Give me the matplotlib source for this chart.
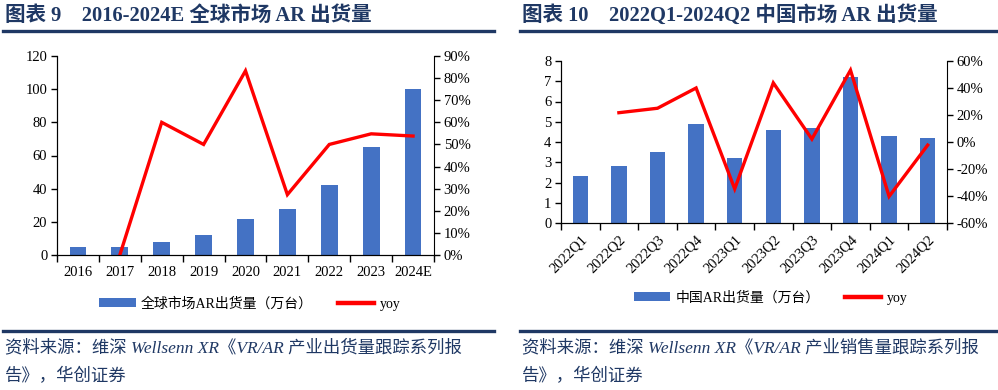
import matplotlib
matplotlib.use("Agg")
import matplotlib.pyplot as plt
from matplotlib.lines import Line2D
from matplotlib.patches import Patch
from matplotlib.ticker import FuncFormatter, FixedLocator
import numpy as np

# 图表9 数据
years = ["2016", "2017", "2018", "2019", "2020", "2021", "2022", "2023", "2024E"]
global_ship = [5, 5, 8, 12, 22, 28, 42, 65, 100]          # 万台
global_yoy = [0.0, 60.0, 50.0, 83.3, 27.3, 50.0, 54.8, 53.8]  # %, 从2017开始

# 图表10 数据
quarters = ["2022Q1", "2022Q2", "2022Q3", "2022Q4", "2023Q1", "2023Q2",
            "2023Q3", "2023Q4", "2024Q1", "2024Q2"]
china_ship = [2.3, 2.8, 3.5, 4.9, 3.2, 4.6, 4.7, 7.2, 4.3, 4.2]
china_yoy = [21.7, 25.0, 40.0, -34.7, 43.8, 2.2, 53.2, -40.3, -2.3]  # %, 从2022Q2开始

BAR = "#4472C4"
RED = "#FF0000"
NAVY = "#1F3864"
FAM = ["Liberation Serif", "Noto Sans CJK SC", "DejaVu Sans"]

plt.rcParams["font.family"] = FAM
plt.rcParams["axes.unicode_minus"] = False

fig = plt.figure(figsize=(9.98, 3.90), dpi=100)


def px(x, y):
    return x / 998, 1 - y / 390


def panel(rect, cats, bars, yoy, ylim, ystep, rlim, rstep, rotate):
    ax = fig.add_axes(rect)
    n = len(cats)
    x = np.arange(n)
    ax.bar(x, bars, width=0.4, color=BAR, zorder=2)
    ax.set_xlim(-0.5, n - 0.5)
    ax.set_ylim(*ylim)
    ax.set_yticks(np.arange(ylim[0], ylim[1] + ystep / 2, ystep))
    ax.set_xticks(x)
    if rotate:
        ax.set_xticklabels(cats, rotation=45, ha="right", rotation_mode="anchor")
    else:
        ax.set_xticklabels(cats)
    ax.xaxis.set_minor_locator(FixedLocator(np.arange(n + 1) - 0.5))
    ax.tick_params(axis="x", which="major", length=0, labelsize=10.5, pad=8 if not rotate else 7)
    ax.tick_params(axis="x", which="minor", length=5, width=1)
    ax.tick_params(axis="y", length=4, width=1, labelsize=10.5, pad=3)
    ax.spines["top"].set_visible(False)
    ax.spines["right"].set_visible(False)

    ax2 = ax.twinx()
    ax2.plot(x[1:], yoy, color=RED, lw=2.4, solid_joinstyle="miter")
    ax2.set_ylim(*rlim)
    ax2.set_yticks(np.arange(rlim[0], rlim[1] + rstep / 2, rstep))
    ax2.yaxis.set_major_formatter(FuncFormatter(lambda v, p: "%d%%" % round(v)))
    ax2.tick_params(axis="y", length=4, width=1, labelsize=10.5, pad=3)
    ax2.spines["top"].set_visible(False)
    return ax, ax2


# 左图
l, b = px(57, 255)
r, t = px(434, 56)
panel([l, b, r - l, t - b], years, global_ship, global_yoy, (0, 120), 20, (0, 90), 10, False)

# 右图
l, b = px(561, 223)
r, t = px(947, 61)
panel([l, b, r - l, t - b], quarters, china_ship, china_yoy, (0, 8), 1, (-60, 60), 20, True)

# 标题和分隔线
titles = [("图表 9    2016-2024E 全球市场 AR 出货量", 5, 3, 494),
          ("图表 10    2022Q1-2024Q2 中国市场 AR 出货量", 522, 520, 998)]
for txt, tx, x0, x1 in titles:
    fig.text(*px(tx, 16), txt, color=NAVY, fontsize=14.8, fontweight="bold",
             va="center", ha="left")
    fig.add_artist(Line2D([x0 / 998, x1 / 998], [1 - 31 / 390] * 2, color=NAVY, lw=2.4))
    fig.add_artist(Line2D([x0 / 998, x1 / 998], [1 - 331 / 390] * 2, color=NAVY, lw=2.4))

# 图例
legends = [("全球市场AR出货量（万台）", 250, 304), ("中国AR出货量（万台）", 771, 298)]
for label, cx, cy in legends:
    h = [Patch(facecolor=BAR, edgecolor="none", label=label),
         Line2D([], [], color=RED, lw=3.2, label="yoy")]
    fig.legend(handles=h, loc="center", bbox_to_anchor=px(cx, cy), ncol=2,
               frameon=False, prop={"family": FAM, "size": 10},
               handlelength=2.6, handleheight=0.6, handletextpad=0.4, columnspacing=1.8)

# 资料来源
sources = [("资料来源：维深 Wellsenn XR《VR/AR 产业出货量跟踪系列报", 5),
           ("资料来源：维深 Wellsenn XR《VR/AR 产业销售量跟踪系列报", 522)]
for txt, sx in sources:
    fig.text(*px(sx, 348), txt, color=NAVY, fontsize=12.5, style="italic",
             va="center", ha="left")
    fig.text(*px(sx, 377), "告》，华创证券", color=NAVY, fontsize=12.5, style="italic",
             va="center", ha="left")

fig.savefig("out.png", dpi=100)
